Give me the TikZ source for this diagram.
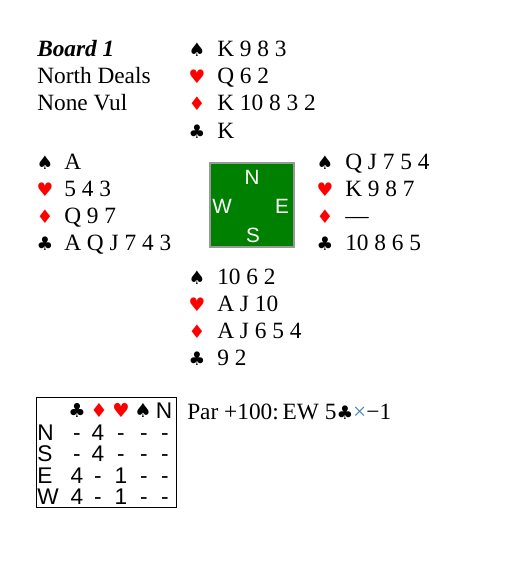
\documentclass[tikz,border=0pt]{standalone}
\usepackage{fontspec}
\setmainfont{Liberation Serif}
\setsansfont{Liberation Sans}
\newfontfamily\suitfont{DejaVu Sans}
\definecolor{suitred}{RGB}{255,0,0}
\definecolor{boardgreen}{RGB}{0,128,0}
\definecolor{xblue}{RGB}{70,130,180}
\newcommand{\sS}{{\suitfont\char"2660}}
\newcommand{\sH}{\textcolor{suitred}{\suitfont\char"2665}}
\newcommand{\sD}{\textcolor{suitred}{\suitfont\char"2666}}
\newcommand{\sC}{{\suitfont\char"2663}}
\tikzset{
  handtext/.style={anchor=base west,inner sep=0pt,font=\fontsize{17.5pt}{20pt}\selectfont},
  suitsym/.style={anchor=base,inner sep=0pt,font=\fontsize{14pt}{17pt}\selectfont},
  compass/.style={anchor=center,inner sep=0pt,text=white,font=\sffamily\fontsize{15.5pt}{18pt}\selectfont},
  ddcell/.style={anchor=base,inner sep=0pt,font=\sffamily\fontsize{17pt}{20pt}\selectfont},
  ddsuit/.style={anchor=base,inner sep=0pt,font=\fontsize{14.5pt}{17pt}\selectfont},
  ddlabel/.style={anchor=base west,inner sep=0pt,font=\sffamily\fontsize{17pt}{20pt}\selectfont}
}

\begin{document}
\begin{tikzpicture}[x=0.75pt,y=-0.75pt]
\useasboundingbox (0,0) rectangle (504,563);
% board info
\node[handtext] (board) at (37,57) {\textbf{\textit{Board 1}}};
\node[handtext] (dealer) at (37,84) {North Deals};
\node[handtext] (vul) at (37,111) {None Vul};
% north
\node[suitsym] (nS) at (197,57) {\sS};
\node[handtext] (nSc) at (217,57) {K 9 8 3};
\node[suitsym] (nH) at (197,84) {\sH};
\node[handtext] (nHc) at (217,84) {Q 6 2};
\node[suitsym] (nD) at (197,111) {\sD};
\node[handtext] (nDc) at (217,111) {K 10 8 3 2};
\node[suitsym] (nC) at (197,138) {\sC};
\node[handtext] (nCc) at (217,138) {K};
% west
\node[suitsym] (wS) at (45,169) {\sS};
\node[handtext] (wSc) at (64,169) {A};
\node[suitsym] (wH) at (45,196) {\sH};
\node[handtext] (wHc) at (64,196) {5 4 3};
\node[suitsym] (wD) at (45,223) {\sD};
\node[handtext] (wDc) at (64,223) {Q 9 7};
\node[suitsym] (wC) at (45,250) {\sC};
\node[handtext] (wCc) at (64,250) {A Q J 7 4 3};
% east
\node[suitsym] (eS) at (325,169) {\sS};
\node[handtext] (eSc) at (345,169) {Q J 7 5 4};
\node[suitsym] (eH) at (325,196) {\sH};
\node[handtext] (eHc) at (345,196) {K 9 8 7};
\node[suitsym] (eD) at (325,223) {\sD};
\node[handtext] (eDc) at (345,223) {---};
\node[suitsym] (eC) at (325,250) {\sC};
\node[handtext] (eCc) at (345,250) {10 8 6 5};
% south
\node[suitsym] (sS) at (197,284) {\sS};
\node[handtext] (sSc) at (217,284) {10 6 2};
\node[suitsym] (sH) at (197,311) {\sH};
\node[handtext] (sHc) at (217,311) {A J 10};
\node[suitsym] (sD) at (197,338) {\sD};
\node[handtext] (sDc) at (217,338) {A J 6 5 4};
\node[suitsym] (sC) at (197,365) {\sC};
\node[handtext] (sCc) at (217,365) {9 2};
% compass
\draw[line width=1.5pt,draw=gray!80,fill=boardgreen] (210,163) rectangle (294,247);
\node[compass] (cN) at (252,177) {N};
\node[compass] (cW) at (222,206) {W};
\node[compass] (cE) at (282,206) {E};
\node[compass] (cS) at (253,235) {S};
% double dummy table
\draw[line width=0.75pt] (36,397) rectangle (176,507);
\node[ddsuit] (hC) at (77,417) {\sC};
\node[ddsuit] (hD) at (99,417) {\sD};
\node[ddsuit] (hH) at (121,417) {\sH};
\node[ddsuit] (hS) at (143,417) {\sS};
\node[ddcell] (hN) at (164,418) {N};
\node[ddlabel] (rN) at (37,440) {N};
\node[ddcell] at (77,440) {-};
\node[ddcell] at (98,440) {4};
\node[ddcell] at (121,440) {-};
\node[ddcell] at (144,440) {-};
\node[ddcell] at (165,440) {-};
\node[ddlabel] (rS) at (37,461) {S};
\node[ddcell] at (77,461) {-};
\node[ddcell] at (98,461) {4};
\node[ddcell] at (121,461) {-};
\node[ddcell] at (144,461) {-};
\node[ddcell] at (165,461) {-};
\node[ddlabel] (rE) at (37,483) {E};
\node[ddcell] at (77,483) {4};
\node[ddcell] at (98,483) {-};
\node[ddcell] at (121,483) {1};
\node[ddcell] at (144,483) {-};
\node[ddcell] at (165,483) {-};
\node[ddlabel] (rW) at (37,504) {W};
\node[ddcell] at (77,504) {4};
\node[ddcell] at (98,504) {-};
\node[ddcell] at (121,504) {1};
\node[ddcell] at (144,504) {-};
\node[ddcell] at (165,504) {-};
% par
\node[handtext] (par) at (187,419) {Par +100:\,EW 5{\fontsize{14pt}{17pt}\selectfont\sC}\textcolor{xblue}{×}−1};
\end{tikzpicture}
\end{document}
